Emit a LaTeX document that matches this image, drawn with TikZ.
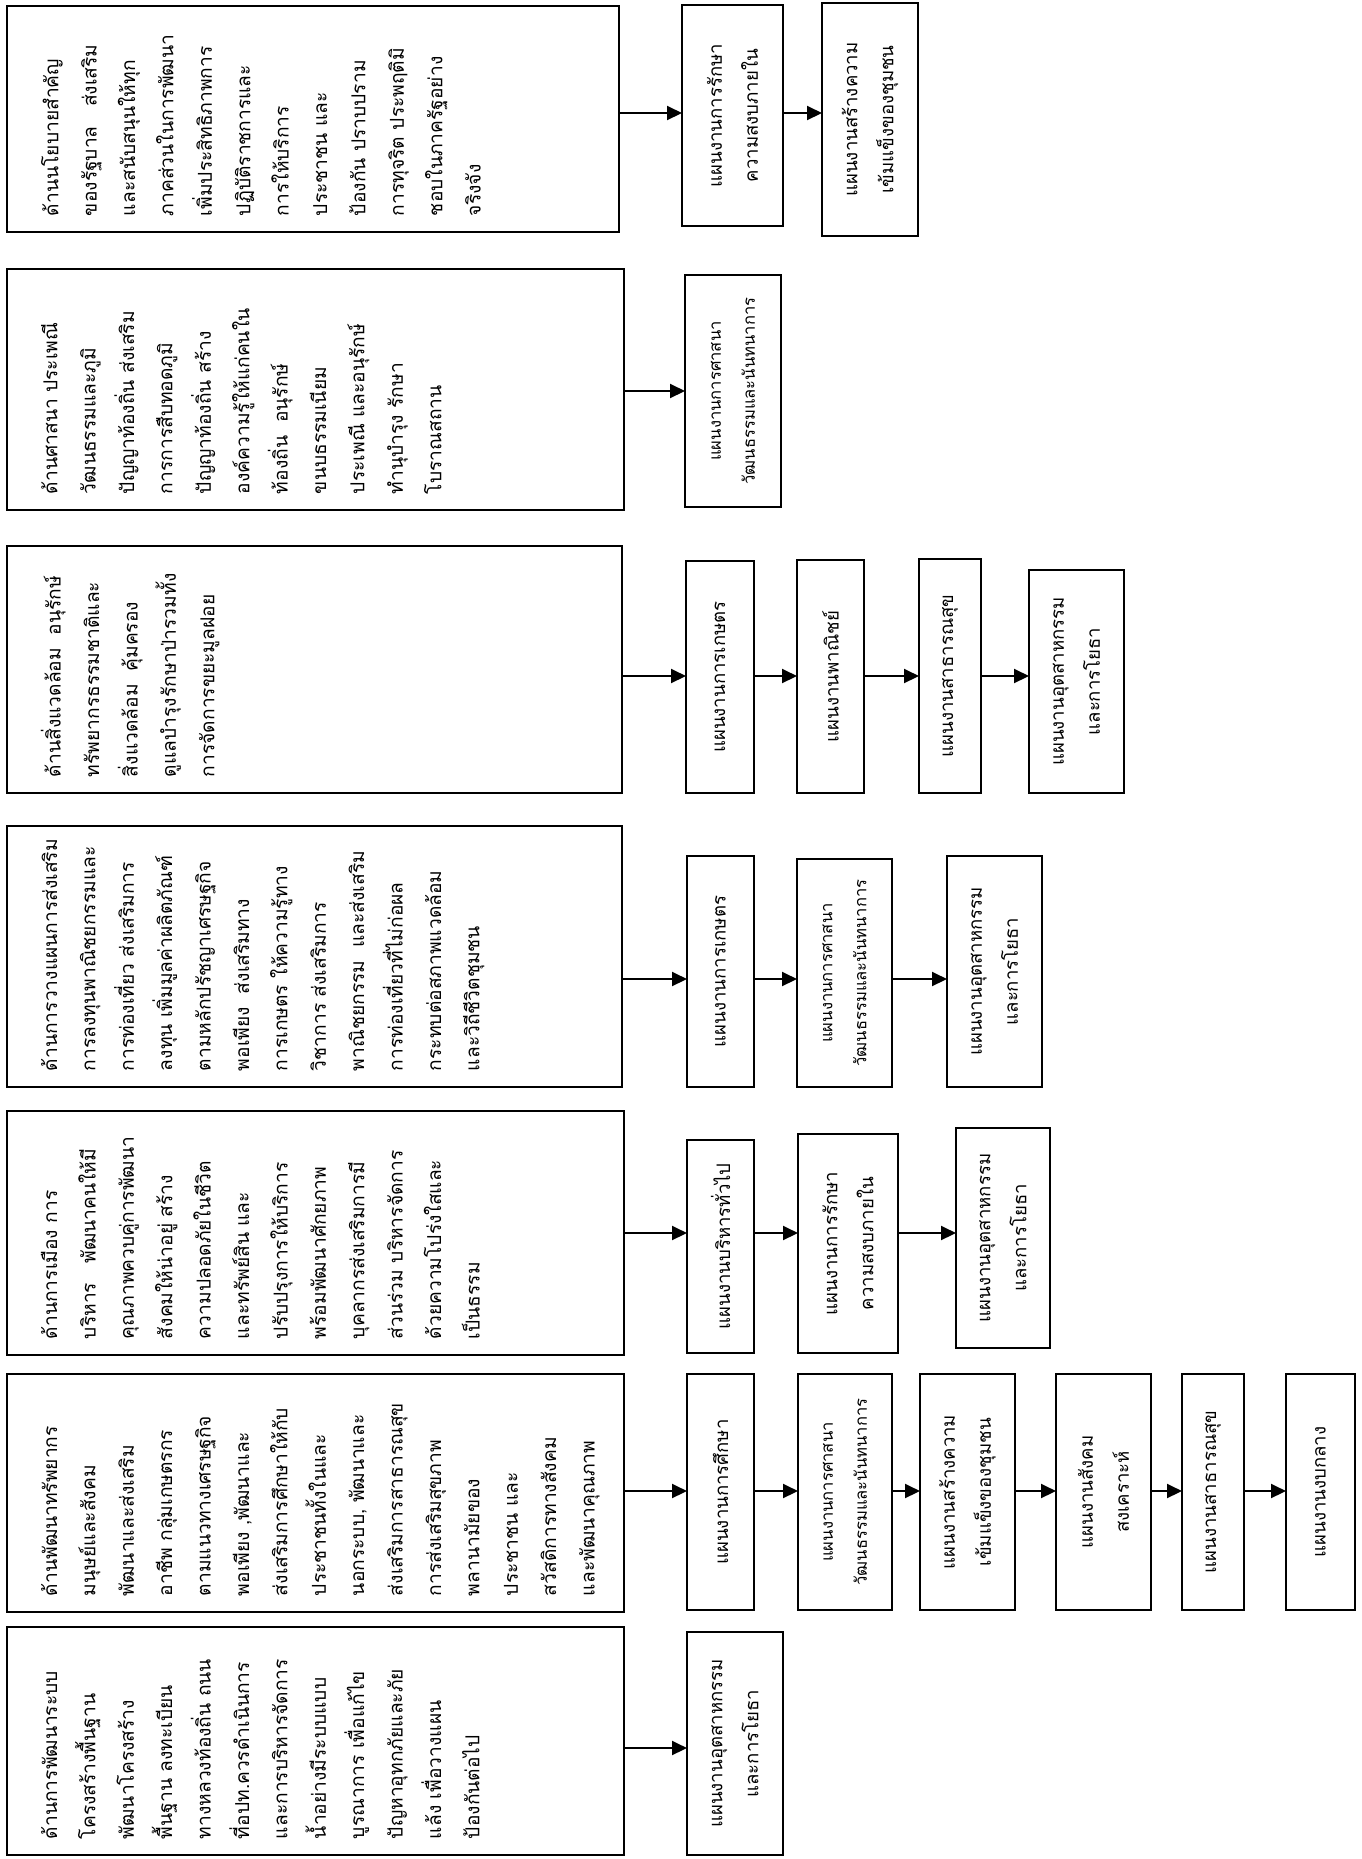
\documentclass[tikz,border=0pt]{standalone}
\usepackage{fontspec}
\usepackage{graphicx}
\usetikzlibrary{arrows.meta}
\setmainfont[Script=Thai]{Loma}
\newcommand\bigfont{\fontsize{9.6}{19.2}\selectfont}
\newcommand\smfont{\fontsize{9.3}{18}\selectfont}
\newcommand\tnfont{\fontsize{8.3}{17}\selectfont}
\tikzset{
  boxst/.style={draw, line width=1.2pt, inner sep=0pt, outer sep=0pt},
  arr/.style={line width=1pt, -{Triangle[length=7.5pt,width=7pt]}}
}
\newcommand\BigBox[6]{%
  \pgfmathsetmacro\bw{(#4-#2)*0.5}%
  \pgfmathsetmacro\bh{(#5-#3)*0.5}%
  \pgfmathsetmacro\tw{\bh-16}%
  \pgfmathsetmacro\th{\bw-14}%
  \node[boxst,minimum width=\bw pt,minimum height=\bh pt] (#1) at ({(#2+#4)/2},{(#3+#5)/2})
    {\rotatebox{90}{\parbox[c][\th pt][t]{\tw pt}{\vspace*{10pt}\bigfont\raggedright #6\par}}};}
\newcommand\SmBox[7]{%
  \pgfmathsetmacro\bw{(#4-#2)*0.5}%
  \pgfmathsetmacro\bh{(#5-#3)*0.5}%
  \pgfmathsetmacro\tw{\bh-6}%
  \node[boxst,minimum width=\bw pt,minimum height=\bh pt] (#1) at ({(#2+#4)/2},{(#3+#5)/2})
    {\rotatebox{90}{\parbox{\tw pt}{\centering #6 #7\par}}};}
\begin{document}
\begin{tikzpicture}[x=0.5pt,y=-0.5pt]
\useasboundingbox (0,0) rectangle (1361,1859);
% Row 1
\BigBox{b1}{7}{6}{619}{232}{ด้านนโยบายสำคัญ\\ของรัฐบาล~~~ส่งเสริม\\และสนับสนุนให้ทุก\\ภาคส่วนในการพัฒนา\\เพิ่มประสิทธิภาพการ\\ปฏิบัติราชการและ\\การให้บริการ\\ประชาชน~และ\\ป้องกัน~ปราบปราม\\การทุจริต~ประพฤติมิ\\ชอบในภาครัฐอย่าง\\จริงจัง}
\SmBox{s11}{682}{5}{783}{226}{\smfont}{แผนงานการรักษา\\ความสงบภายใน}
\SmBox{s12}{822}{3}{918}{236}{\smfont}{แผนงานสร้างความ\\เข้มแข็งของชุมชน}
\coordinate (r1) at (0,113);
\draw[arr] (b1.east|-r1) -- (s11.west|-r1);
\draw[arr] (s11.east|-r1) -- (s12.west|-r1);
% Row 2
\BigBox{b2}{7}{269}{624}{510}{ด้านศาสนา~ประเพณี\\วัฒนธรรมและภูมิ\\ปัญญาท้องถิ่น~ส่งเสริม\\การการสืบทอดภูมิ\\ปัญญาท้องถิ่น~สร้าง\\องค์ความรู้ให้แก่คนใน\\ท้องถิ่น~~อนุรักษ์\\ขนบธรรมเนียม\\ประเพณี~และอนุรักษ์\\ทำนุบำรุง~รักษา\\โบราณสถาน}
\SmBox{s21}{685}{275}{781}{507}{\tnfont}{แผนงานการศาสนา\\วัฒนธรรมและนันทนาการ}
\coordinate (r2) at (0,391);
\draw[arr] (b2.east|-r2) -- (s21.west|-r2);
% Row 3
\BigBox{b3}{7}{546}{622}{793}{ด้านสิ่งแวดล้อม~~อนุรักษ์\\ทรัพยากรธรรมชาติและ\\สิ่งแวดล้อม~~คุ้มครอง\\ดูแลบำรุงรักษาป่ารวมทั้ง\\การจัดการขยะมูลฝอย}
\SmBox{s31}{686}{561}{754}{793}{\smfont}{แผนงานการเกษตร}
\SmBox{s32}{797}{560}{864}{793}{\smfont}{แผนงานพาณิชย์}
\SmBox{s33}{919}{559}{981}{793}{\smfont}{แผนงานสาธารณสุข}
\SmBox{s34}{1029}{570}{1124}{793}{\smfont}{แผนงานอุตสาหกรรม\\และการโยธา}
\coordinate (r3) at (0,676);
\draw[arr] (b3.east|-r3) -- (s31.west|-r3);
\draw[arr] (s31.east|-r3) -- (s32.west|-r3);
\draw[arr] (s32.east|-r3) -- (s33.west|-r3);
\draw[arr] (s33.east|-r3) -- (s34.west|-r3);
% Row 4
\BigBox{b4}{7}{826}{622}{1087}{ด้านการวางแผนการส่งเสริม\\การลงทุนพาณิชยกรรมและ\\การท่องเที่ยว~ส่งเสริมการ\\ลงทุน~เพิ่มมูลค่าผลิตภัณฑ์\\ตามหลักปรัชญาเศรษฐกิจ\\พอเพียง~~ส่งเสริมทาง\\การเกษตร~ให้ความรู้ทาง\\วิชาการ~ส่งเสริมการ\\พาณิชยกรรม~~และส่งเสริม\\การท่องเที่ยวที่ไม่ก่อผล\\กระทบต่อสภาพแวดล้อม\\และวิถีชีวิตชุมชน}
\SmBox{s41}{687}{856}{754}{1087}{\smfont}{แผนงานการเกษตร}
\SmBox{s42}{797}{859}{892}{1087}{\tnfont}{แผนงานการศาสนา\\วัฒนธรรมและนันทนาการ}
\SmBox{s43}{947}{856}{1042}{1087}{\smfont}{แผนงานอุตสาหกรรม\\และการโยธา}
\coordinate (r4) at (0,979);
\draw[arr] (b4.east|-r4) -- (s41.west|-r4);
\draw[arr] (s41.east|-r4) -- (s42.west|-r4);
\draw[arr] (s42.east|-r4) -- (s43.west|-r4);
% Row 5
\BigBox{b5}{7}{1111}{624}{1355}{ด้านการเมือง~การ\\บริหาร~~~พัฒนาคนให้มี\\คุณภาพควบคู่การพัฒนา\\สังคมให้น่าอยู่~สร้าง\\ความปลอดภัยในชีวิต\\และทรัพย์สิน~และ\\ปรับปรุงการให้บริการ\\พร้อมพัฒนาศักยภาพ\\บุคลากรส่งเสริมการมี\\ส่วนร่วม~บริหารจัดการ\\ด้วยความโปร่งใสและ\\เป็นธรรม}
\SmBox{s51}{687}{1140}{754}{1353}{\smfont}{แผนงานบริหารทั่วไป}
\SmBox{s52}{798}{1134}{898}{1353}{\smfont}{แผนงานการรักษา\\ความสงบภายใน}
\SmBox{s53}{956}{1128}{1050}{1348}{\smfont}{แผนงานอุตสาหกรรม\\และการโยธา}
\coordinate (r5) at (0,1233);
\draw[arr] (b5.east|-r5) -- (s51.west|-r5);
\draw[arr] (s51.east|-r5) -- (s52.west|-r5);
\draw[arr] (s52.east|-r5) -- (s53.west|-r5);
% Row 6
\BigBox{b6}{7}{1374}{624}{1612}{ด้านพัฒนาทรัพยากร\\มนุษย์และสังคม\\พัฒนาและส่งเสริม\\อาชีพ~กลุ่มเกษตรกร\\ตามแนวทางเศรษฐกิจ\\พอเพียง~,พัฒนาและ\\ส่งเสริมการศึกษาให้กับ\\ประชาชนทั้งในและ\\นอกระบบ,~พัฒนาและ\\ส่งเสริมการสาธารณสุข\\การส่งเสริมสุขภาพ\\พลานามัยของ\\ประชาชน~และ\\สวัสดิการทางสังคม\\และพัฒนาคุณภาพ}
\SmBox{s61}{687}{1374}{754}{1610}{\smfont}{แผนงานการศึกษา}
\SmBox{s62}{798}{1374}{892}{1610}{\tnfont}{แผนงานการศาสนา\\วัฒนธรรมและนันทนาการ}
\SmBox{s63}{920}{1374}{1015}{1610}{\smfont}{แผนงานสร้างความ\\เข้มแข็งของชุมชน}
\SmBox{s64}{1056}{1374}{1151}{1610}{\smfont}{แผนงานสังคม\\สงเคราะห์}
\SmBox{s65}{1182}{1374}{1244}{1610}{\smfont}{แผนงานสาธารณสุข}
\SmBox{s66}{1286}{1374}{1355}{1610}{\smfont}{แผนงานงบกลาง}
\coordinate (r6) at (0,1491);
\draw[arr] (b6.east|-r6) -- (s61.west|-r6);
\draw[arr] (s61.east|-r6) -- (s62.west|-r6);
\draw[arr] (s62.east|-r6) -- (s63.west|-r6);
\draw[arr] (s63.east|-r6) -- (s64.west|-r6);
\draw[arr] (s64.east|-r6) -- (s65.west|-r6);
\draw[arr] (s65.east|-r6) -- (s66.west|-r6);
% Row 7
\BigBox{b7}{7}{1627}{624}{1855}{ด้านการพัฒนาระบบ\\โครงสร้างพื้นฐาน\\พัฒนาโครงสร้าง\\พื้นฐาน~ลงทะเบียน\\ทางหลวงท้องถิ่น~ถนน\\ที่อปท.ควรดำเนินการ\\และการบริหารจัดการ\\น้ำอย่างมีระบบแบบ\\บูรณาการ~เพื่อแก้ไข\\ปัญหาอุทกภัยและภัย\\แล้ง~เพื่อวางแผน\\ป้องกันต่อไป}
\SmBox{s71}{687}{1632}{783}{1855}{\smfont}{แผนงานอุตสาหกรรม\\และการโยธา}
\coordinate (r7) at (0,1748);
\draw[arr] (b7.east|-r7) -- (s71.west|-r7);
\end{tikzpicture}
\end{document}
